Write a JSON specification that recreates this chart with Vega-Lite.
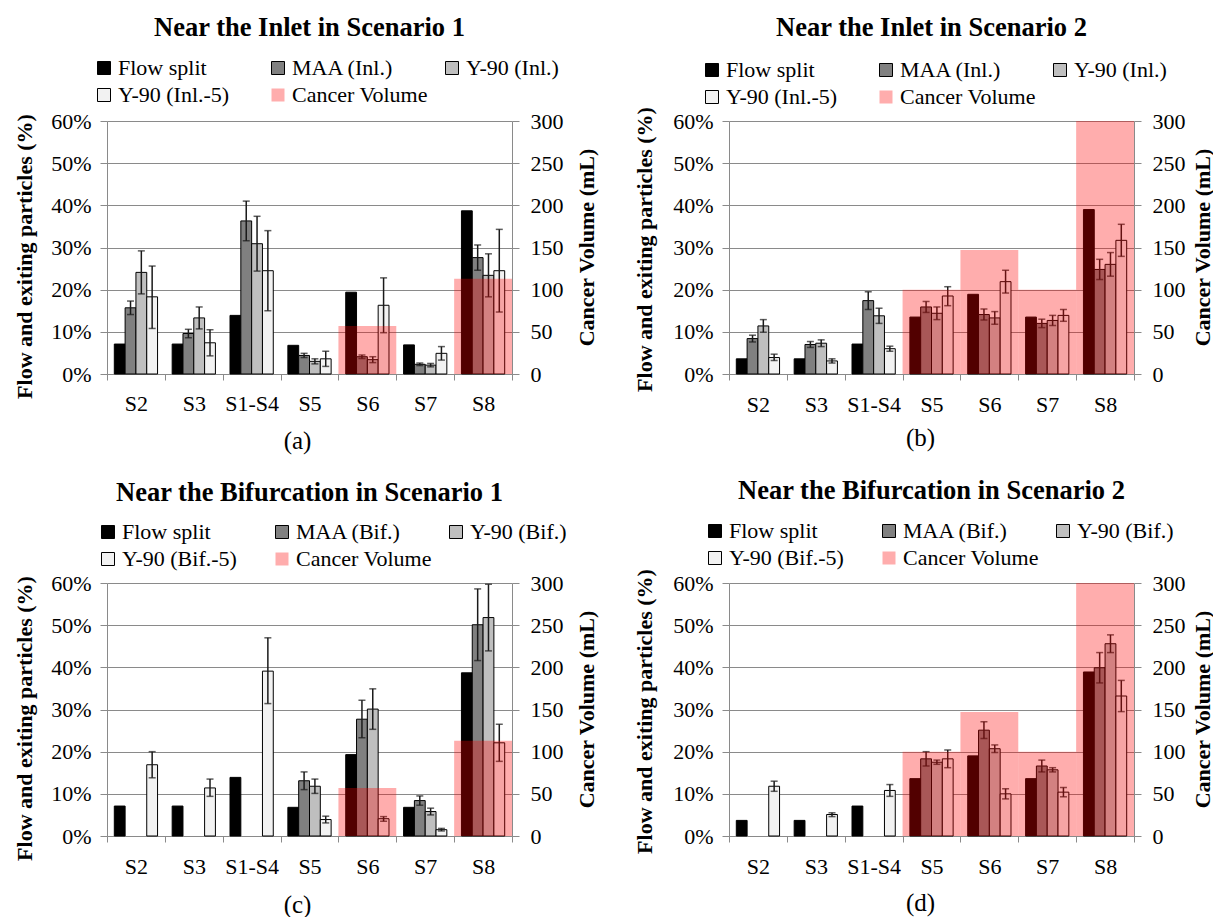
{
  "$schema": "https://vega.github.io/schema/vega-lite/v6.json",
  "background": "white",
  "padding": {"left": 12, "top": 14, "right": 0, "bottom": 0},
  "bounds": "flush",
  "columns": 2,
  "spacing": {"row": 209, "column": 217},
  "resolve": {"scale": {"color": "independent", "x": "independent", "y": "independent", "xOffset": "independent"}, "legend": {"color": "independent"}},
  "config": {"view": {"stroke": null}, "font": "Liberation Serif, Times New Roman, DejaVu Serif, serif"},
  "datasets": {
    "bars": [
      {"p":"a","cat":"S2","s":"Flow split","v":7.1},
      {"p":"a","cat":"S2","s":"MAA (Inl.)","v":15.7,"lo":14.1,"hi":17.3},
      {"p":"a","cat":"S2","s":"Y-90 (Inl.)","v":24.1,"lo":19.0,"hi":29.2},
      {"p":"a","cat":"S2","s":"Y-90 (Inl.-5)","v":18.3,"lo":10.8,"hi":25.6},
      {"p":"a","cat":"S3","s":"Flow split","v":7.1},
      {"p":"a","cat":"S3","s":"MAA (Inl.)","v":9.6,"lo":8.6,"hi":10.6},
      {"p":"a","cat":"S3","s":"Y-90 (Inl.)","v":13.3,"lo":10.7,"hi":15.9},
      {"p":"a","cat":"S3","s":"Y-90 (Inl.-5)","v":7.4,"lo":4.3,"hi":10.5},
      {"p":"a","cat":"S1-S4","s":"Flow split","v":13.9},
      {"p":"a","cat":"S1-S4","s":"MAA (Inl.)","v":36.3,"lo":31.6,"hi":41.0},
      {"p":"a","cat":"S1-S4","s":"Y-90 (Inl.)","v":30.9,"lo":24.4,"hi":37.4},
      {"p":"a","cat":"S1-S4","s":"Y-90 (Inl.-5)","v":24.5,"lo":15.0,"hi":34.0},
      {"p":"a","cat":"S5","s":"Flow split","v":6.8},
      {"p":"a","cat":"S5","s":"MAA (Inl.)","v":4.4,"lo":3.9,"hi":4.9},
      {"p":"a","cat":"S5","s":"Y-90 (Inl.)","v":3.0,"lo":2.4,"hi":3.6},
      {"p":"a","cat":"S5","s":"Y-90 (Inl.-5)","v":3.6,"lo":1.8,"hi":5.4},
      {"p":"a","cat":"S6","s":"Flow split","v":19.4},
      {"p":"a","cat":"S6","s":"MAA (Inl.)","v":4.1,"lo":3.7,"hi":4.5},
      {"p":"a","cat":"S6","s":"Y-90 (Inl.)","v":3.4,"lo":2.7,"hi":4.1},
      {"p":"a","cat":"S6","s":"Y-90 (Inl.-5)","v":16.3,"lo":9.8,"hi":22.8},
      {"p":"a","cat":"S7","s":"Flow split","v":6.9},
      {"p":"a","cat":"S7","s":"MAA (Inl.)","v":2.3,"lo":2.0,"hi":2.6},
      {"p":"a","cat":"S7","s":"Y-90 (Inl.)","v":2.1,"lo":1.7,"hi":2.5},
      {"p":"a","cat":"S7","s":"Y-90 (Inl.-5)","v":4.9,"lo":3.3,"hi":6.5},
      {"p":"a","cat":"S8","s":"Flow split","v":38.7},
      {"p":"a","cat":"S8","s":"MAA (Inl.)","v":27.6,"lo":24.6,"hi":30.6},
      {"p":"a","cat":"S8","s":"Y-90 (Inl.)","v":23.4,"lo":18.3,"hi":28.5},
      {"p":"a","cat":"S8","s":"Y-90 (Inl.-5)","v":24.5,"lo":14.7,"hi":34.3},

      {"p":"b","cat":"S2","s":"Flow split","v":3.6},
      {"p":"b","cat":"S2","s":"MAA (Inl.)","v":8.4,"lo":7.6,"hi":9.2},
      {"p":"b","cat":"S2","s":"Y-90 (Inl.)","v":11.4,"lo":9.9,"hi":12.9},
      {"p":"b","cat":"S2","s":"Y-90 (Inl.-5)","v":3.9,"lo":3.2,"hi":4.7},
      {"p":"b","cat":"S3","s":"Flow split","v":3.6},
      {"p":"b","cat":"S3","s":"MAA (Inl.)","v":7.0,"lo":6.3,"hi":7.7},
      {"p":"b","cat":"S3","s":"Y-90 (Inl.)","v":7.3,"lo":6.5,"hi":8.1},
      {"p":"b","cat":"S3","s":"Y-90 (Inl.-5)","v":3.1,"lo":2.6,"hi":3.6},
      {"p":"b","cat":"S1-S4","s":"Flow split","v":7.1},
      {"p":"b","cat":"S1-S4","s":"MAA (Inl.)","v":17.4,"lo":15.3,"hi":19.5},
      {"p":"b","cat":"S1-S4","s":"Y-90 (Inl.)","v":13.8,"lo":12.0,"hi":15.6},
      {"p":"b","cat":"S1-S4","s":"Y-90 (Inl.-5)","v":6.0,"lo":5.4,"hi":6.6},
      {"p":"b","cat":"S5","s":"Flow split","v":13.5},
      {"p":"b","cat":"S5","s":"MAA (Inl.)","v":15.9,"lo":14.6,"hi":17.2},
      {"p":"b","cat":"S5","s":"Y-90 (Inl.)","v":14.4,"lo":12.9,"hi":15.9},
      {"p":"b","cat":"S5","s":"Y-90 (Inl.-5)","v":18.5,"lo":16.2,"hi":20.7},
      {"p":"b","cat":"S6","s":"Flow split","v":18.9},
      {"p":"b","cat":"S6","s":"MAA (Inl.)","v":14.1,"lo":12.8,"hi":15.4},
      {"p":"b","cat":"S6","s":"Y-90 (Inl.)","v":13.3,"lo":11.8,"hi":14.8},
      {"p":"b","cat":"S6","s":"Y-90 (Inl.-5)","v":21.9,"lo":19.2,"hi":24.6},
      {"p":"b","cat":"S7","s":"Flow split","v":13.5},
      {"p":"b","cat":"S7","s":"MAA (Inl.)","v":12.0,"lo":11.0,"hi":13.0},
      {"p":"b","cat":"S7","s":"Y-90 (Inl.)","v":12.7,"lo":11.5,"hi":13.9},
      {"p":"b","cat":"S7","s":"Y-90 (Inl.-5)","v":13.9,"lo":12.5,"hi":15.3},
      {"p":"b","cat":"S8","s":"Flow split","v":39.0},
      {"p":"b","cat":"S8","s":"MAA (Inl.)","v":24.8,"lo":22.4,"hi":27.2},
      {"p":"b","cat":"S8","s":"Y-90 (Inl.)","v":26.0,"lo":23.2,"hi":28.8},
      {"p":"b","cat":"S8","s":"Y-90 (Inl.-5)","v":31.7,"lo":27.9,"hi":35.5},

      {"p":"c","cat":"S2","s":"Flow split","v":7.1},
      {"p":"c","cat":"S2","s":"Y-90 (Bif.-5)","v":16.9,"lo":13.8,"hi":20.0},
      {"p":"c","cat":"S3","s":"Flow split","v":7.1},
      {"p":"c","cat":"S3","s":"Y-90 (Bif.-5)","v":11.4,"lo":9.4,"hi":13.5},
      {"p":"c","cat":"S1-S4","s":"Flow split","v":13.9},
      {"p":"c","cat":"S1-S4","s":"Y-90 (Bif.-5)","v":39.1,"lo":31.4,"hi":47.0},
      {"p":"c","cat":"S5","s":"Flow split","v":6.8},
      {"p":"c","cat":"S5","s":"MAA (Bif.)","v":13.1,"lo":11.0,"hi":15.2},
      {"p":"c","cat":"S5","s":"Y-90 (Bif.)","v":11.8,"lo":10.1,"hi":13.5},
      {"p":"c","cat":"S5","s":"Y-90 (Bif.-5)","v":3.9,"lo":3.1,"hi":4.7},
      {"p":"c","cat":"S6","s":"Flow split","v":19.3},
      {"p":"c","cat":"S6","s":"MAA (Bif.)","v":27.7,"lo":23.3,"hi":32.2},
      {"p":"c","cat":"S6","s":"Y-90 (Bif.)","v":30.1,"lo":25.3,"hi":34.9},
      {"p":"c","cat":"S6","s":"Y-90 (Bif.-5)","v":4.1,"lo":3.5,"hi":4.6},
      {"p":"c","cat":"S7","s":"Flow split","v":6.8},
      {"p":"c","cat":"S7","s":"MAA (Bif.)","v":8.4,"lo":7.3,"hi":9.5},
      {"p":"c","cat":"S7","s":"Y-90 (Bif.)","v":5.8,"lo":5.0,"hi":6.6},
      {"p":"c","cat":"S7","s":"Y-90 (Bif.-5)","v":1.5,"lo":1.2,"hi":1.8},
      {"p":"c","cat":"S8","s":"Flow split","v":38.7},
      {"p":"c","cat":"S8","s":"MAA (Bif.)","v":50.1,"lo":41.6,"hi":58.6},
      {"p":"c","cat":"S8","s":"Y-90 (Bif.)","v":51.8,"lo":43.9,"hi":59.7},
      {"p":"c","cat":"S8","s":"Y-90 (Bif.-5)","v":22.1,"lo":17.7,"hi":26.5},

      {"p":"d","cat":"S2","s":"Flow split","v":3.7},
      {"p":"d","cat":"S2","s":"Y-90 (Bif.-5)","v":11.8,"lo":10.6,"hi":13.0},
      {"p":"d","cat":"S3","s":"Flow split","v":3.7},
      {"p":"d","cat":"S3","s":"Y-90 (Bif.-5)","v":5.1,"lo":4.6,"hi":5.5},
      {"p":"d","cat":"S1-S4","s":"Flow split","v":7.1},
      {"p":"d","cat":"S1-S4","s":"Y-90 (Bif.-5)","v":10.8,"lo":9.4,"hi":12.2},
      {"p":"d","cat":"S5","s":"Flow split","v":13.6},
      {"p":"d","cat":"S5","s":"MAA (Bif.)","v":18.3,"lo":16.6,"hi":20.0},
      {"p":"d","cat":"S5","s":"Y-90 (Bif.)","v":17.5,"lo":17.0,"hi":18.0},
      {"p":"d","cat":"S5","s":"Y-90 (Bif.-5)","v":18.3,"lo":16.2,"hi":20.4},
      {"p":"d","cat":"S6","s":"Flow split","v":19.0},
      {"p":"d","cat":"S6","s":"MAA (Bif.)","v":25.1,"lo":23.1,"hi":27.1},
      {"p":"d","cat":"S6","s":"Y-90 (Bif.)","v":20.7,"lo":19.8,"hi":21.6},
      {"p":"d","cat":"S6","s":"Y-90 (Bif.-5)","v":10.0,"lo":8.8,"hi":11.2},
      {"p":"d","cat":"S7","s":"Flow split","v":13.6},
      {"p":"d","cat":"S7","s":"MAA (Bif.)","v":16.6,"lo":15.2,"hi":18.0},
      {"p":"d","cat":"S7","s":"Y-90 (Bif.)","v":15.7,"lo":15.2,"hi":16.2},
      {"p":"d","cat":"S7","s":"Y-90 (Bif.-5)","v":10.4,"lo":9.3,"hi":11.5},
      {"p":"d","cat":"S8","s":"Flow split","v":38.9},
      {"p":"d","cat":"S8","s":"MAA (Bif.)","v":39.9,"lo":36.3,"hi":43.5},
      {"p":"d","cat":"S8","s":"Y-90 (Bif.)","v":45.6,"lo":43.5,"hi":47.7},
      {"p":"d","cat":"S8","s":"Y-90 (Bif.-5)","v":33.2,"lo":29.5,"hi":36.9}
    ],
    "cancer": [
      {"p":"a","cat":"S6","s":"Cancer Volume","vol":57},
      {"p":"a","cat":"S8","s":"Cancer Volume","vol":113},
      {"p":"b","cat":"S5","s":"Cancer Volume","vol":100},
      {"p":"b","cat":"S6","s":"Cancer Volume","vol":147},
      {"p":"b","cat":"S7","s":"Cancer Volume","vol":100},
      {"p":"b","cat":"S8","s":"Cancer Volume","vol":300},
      {"p":"c","cat":"S6","s":"Cancer Volume","vol":57},
      {"p":"c","cat":"S8","s":"Cancer Volume","vol":113},
      {"p":"d","cat":"S5","s":"Cancer Volume","vol":100},
      {"p":"d","cat":"S6","s":"Cancer Volume","vol":147},
      {"p":"d","cat":"S7","s":"Cancer Volume","vol":100},
      {"p":"d","cat":"S8","s":"Cancer Volume","vol":300}
    ]
  },
  "concat": [
    {
      "width": 405, "height": 253,
      "title": {"text": "Near the Inlet in Scenario 1", "frame": "group", "anchor": "middle", "baseline": "middle", "offset": 3, "fontSize": 26.5, "font": "Liberation Serif, Times New Roman, DejaVu Serif, serif", "fontWeight": "bold", "color": "#000"},
      "layer": [
        {
          "data": {"name": "bars"},
          "transform": [{"filter": "datum.p === 'a'"}],
          "encoding": {
            "x": {"field": "cat", "type": "nominal", "title": "(a)", "scale": {"domain": ["S2","S3","S1-S4","S5","S6","S7","S8"], "paddingInner": 0, "paddingOuter": 0},
              "axis": {"orient": "bottom", "tickBand": "extent", "tickSize": 6, "tickColor": "#8a8a8a", "domainColor": "#8a8a8a", "labelAngle": 0, "labelBaseline": "middle", "labelPadding": 23, "labelFont": "Liberation Serif, Times New Roman, DejaVu Serif, serif", "labelFontSize": 22, "labelColor": "#000", "titleFont": "Liberation Serif, Times New Roman, DejaVu Serif, serif", "titleFontSize": 25, "titleFontWeight": "normal", "titleColor": "#000", "titleX": 190, "titleY": 66, "titleBaseline": "middle", "grid": false}},
            "xOffset": {"field": "s", "type": "nominal", "scale": {"domain": ["Flow split","MAA (Inl.)","Y-90 (Inl.)","Y-90 (Inl.-5)"], "paddingInner": 0, "paddingOuter": 0.675}}
          },
          "layer": [
            {
              "mark": {"type": "bar", "stroke": "#000", "strokeWidth": 1},
              "encoding": {
                "y": {"field": "v", "type": "quantitative", "title": "Flow and exiting particles (%)", "scale": {"domain": [0, 60], "nice": false},
                  "axis": {"orient": "left", "values": [0,10,20,30,40,50,60], "labelExpr": "datum.value + '%'", "grid": true, "gridColor": "#8a8a8a", "gridWidth": 1, "domainColor": "#8a8a8a", "tickColor": "#8a8a8a", "tickSize": 7, "labelPadding": 9, "labelFont": "Liberation Serif, Times New Roman, DejaVu Serif, serif", "labelFontSize": 22, "labelColor": "#000", "titleFont": "Liberation Serif, Times New Roman, DejaVu Serif, serif", "titleFontSize": 22, "titleFontWeight": "bold", "titleColor": "#000", "titleX": -83, "titleY": 135, "titleBaseline": "middle", "titleAlign": "center", "titleAngle": 270}},
                "color": {"field": "s", "type": "nominal",
                  "scale": {"domain": ["Flow split","MAA (Inl.)","Y-90 (Inl.)","Y-90 (Inl.-5)","Cancer Volume"], "range": ["#000000","#808080","#bfbfbf","#f2f2f2","#ff0000"]},
                  "legend": {"orient": "none", "legendX": -14, "legendY": -64, "direction": "horizontal", "columns": 3, "title": null, "symbolType": "square", "symbolSize": 169, "symbolStrokeColor": "#000", "symbolStrokeWidth": 1, "labelFont": "Liberation Serif, Times New Roman, DejaVu Serif, serif", "labelFontSize": 22, "labelColor": "#000", "columnPadding": 13, "rowPadding": 5, "gridAlign": "all", "labelOffset": 3, "labelLimit": 300,
                    "encode": {"symbols": {"update": {"stroke": [{"test": "datum.value === 'Cancer Volume'", "value": "transparent"}, {"value": "#000"}], "opacity": {"value": 1}, "fillOpacity": [{"test": "datum.value === 'Cancer Volume'", "value": 0.32}, {"value": 1}]}}}}}
              }
            },
            {
              "transform": [{"filter": "isValid(datum.lo)"}],
              "mark": {"type": "rule", "color": "#1a1a1a", "strokeWidth": 1.5},
              "encoding": {"y": {"field": "lo", "type": "quantitative", "title": "Flow and exiting particles (%)"}, "y2": {"field": "hi"}}
            },
            {
              "transform": [{"filter": "isValid(datum.hi)"}],
              "mark": {"type": "tick", "color": "#1a1a1a", "thickness": 1.5, "size": 7},
              "encoding": {"y": {"field": "hi", "type": "quantitative", "title": "Flow and exiting particles (%)"}}
            },
            {
              "transform": [{"filter": "isValid(datum.lo)"}],
              "mark": {"type": "tick", "color": "#1a1a1a", "thickness": 1.5, "size": 7},
              "encoding": {"y": {"field": "lo", "type": "quantitative", "title": "Flow and exiting particles (%)"}}
            }
          ]
        },
        {
          "data": {"name": "cancer"},
          "transform": [{"filter": "datum.p === 'a'"}],
          "mark": {"type": "bar", "opacity": 0.32},
          "encoding": {
            "x": {"field": "cat", "type": "nominal", "title": "(a)"},
            "y": {"field": "vol", "type": "quantitative", "title": "Cancer Volume (mL)", "scale": {"domain": [0, 300], "nice": false},
              "axis": {"orient": "right", "values": [0,50,100,150,200,250,300], "grid": false, "domainColor": "#8a8a8a", "tickColor": "#8a8a8a", "tickSize": 7, "labelPadding": 11, "labelFont": "Liberation Serif, Times New Roman, DejaVu Serif, serif", "labelFontSize": 22, "labelColor": "#000", "titleFont": "Liberation Serif, Times New Roman, DejaVu Serif, serif", "titleFontSize": 22, "titleFontWeight": "bold", "titleColor": "#000", "titleX": 74, "titleY": 126, "titleBaseline": "middle", "titleAlign": "center", "titleAngle": 270}},
            "color": {"field": "s", "type": "nominal"}
          }
        }
      ],
      "resolve": {"scale": {"y": "independent"}}
    },
    {
      "width": 405, "height": 253,
      "title": {"text": "Near the Inlet in Scenario 2", "frame": "group", "anchor": "middle", "baseline": "middle", "offset": 5, "fontSize": 26.5, "font": "Liberation Serif, Times New Roman, DejaVu Serif, serif", "fontWeight": "bold", "color": "#000"},
      "layer": [
        {
          "data": {"name": "bars"},
          "transform": [{"filter": "datum.p === 'b'"}],
          "encoding": {
            "x": {"field": "cat", "type": "nominal", "title": "(b)", "scale": {"domain": ["S2","S3","S1-S4","S5","S6","S7","S8"], "paddingInner": 0, "paddingOuter": 0},
              "axis": {"orient": "bottom", "tickBand": "extent", "tickSize": 6, "tickColor": "#8a8a8a", "domainColor": "#8a8a8a", "labelAngle": 0, "labelBaseline": "middle", "labelPadding": 24, "labelFont": "Liberation Serif, Times New Roman, DejaVu Serif, serif", "labelFontSize": 22, "labelColor": "#000", "titleFont": "Liberation Serif, Times New Roman, DejaVu Serif, serif", "titleFontSize": 25, "titleFontWeight": "normal", "titleColor": "#000", "titleX": 191, "titleY": 63, "titleBaseline": "middle", "grid": false}},
            "xOffset": {"field": "s", "type": "nominal", "scale": {"domain": ["Flow split","MAA (Inl.)","Y-90 (Inl.)","Y-90 (Inl.-5)"], "paddingInner": 0, "paddingOuter": 0.675}}
          },
          "layer": [
            {
              "mark": {"type": "bar", "stroke": "#000", "strokeWidth": 1},
              "encoding": {
                "y": {"field": "v", "type": "quantitative", "title": "Flow and exiting particles (%)", "scale": {"domain": [0, 60], "nice": false},
                  "axis": {"orient": "left", "values": [0,10,20,30,40,50,60], "labelExpr": "datum.value + '%'", "grid": true, "gridColor": "#8a8a8a", "gridWidth": 1, "domainColor": "#8a8a8a", "tickColor": "#8a8a8a", "tickSize": 7, "labelPadding": 9, "labelFont": "Liberation Serif, Times New Roman, DejaVu Serif, serif", "labelFontSize": 22, "labelColor": "#000", "titleFont": "Liberation Serif, Times New Roman, DejaVu Serif, serif", "titleFontSize": 22, "titleFontWeight": "bold", "titleColor": "#000", "titleX": -85, "titleY": 128, "titleBaseline": "middle", "titleAlign": "center", "titleAngle": 270}},
                "color": {"field": "s", "type": "nominal",
                  "scale": {"domain": ["Flow split","MAA (Inl.)","Y-90 (Inl.)","Y-90 (Inl.-5)","Cancer Volume"], "range": ["#000000","#808080","#bfbfbf","#f2f2f2","#ff0000"]},
                  "legend": {"orient": "none", "legendX": -28, "legendY": -62, "direction": "horizontal", "columns": 3, "title": null, "symbolType": "square", "symbolSize": 169, "symbolStrokeColor": "#000", "symbolStrokeWidth": 1, "labelFont": "Liberation Serif, Times New Roman, DejaVu Serif, serif", "labelFontSize": 22, "labelColor": "#000", "columnPadding": 13, "rowPadding": 5, "gridAlign": "all", "labelOffset": 3, "labelLimit": 300,
                    "encode": {"symbols": {"update": {"stroke": [{"test": "datum.value === 'Cancer Volume'", "value": "transparent"}, {"value": "#000"}], "opacity": {"value": 1}, "fillOpacity": [{"test": "datum.value === 'Cancer Volume'", "value": 0.32}, {"value": 1}]}}}}}
              }
            },
            {
              "transform": [{"filter": "isValid(datum.lo)"}],
              "mark": {"type": "rule", "color": "#1a1a1a", "strokeWidth": 1.5},
              "encoding": {"y": {"field": "lo", "type": "quantitative", "title": "Flow and exiting particles (%)"}, "y2": {"field": "hi"}}
            },
            {
              "transform": [{"filter": "isValid(datum.hi)"}],
              "mark": {"type": "tick", "color": "#1a1a1a", "thickness": 1.5, "size": 7},
              "encoding": {"y": {"field": "hi", "type": "quantitative", "title": "Flow and exiting particles (%)"}}
            },
            {
              "transform": [{"filter": "isValid(datum.lo)"}],
              "mark": {"type": "tick", "color": "#1a1a1a", "thickness": 1.5, "size": 7},
              "encoding": {"y": {"field": "lo", "type": "quantitative", "title": "Flow and exiting particles (%)"}}
            }
          ]
        },
        {
          "data": {"name": "cancer"},
          "transform": [{"filter": "datum.p === 'b'"}],
          "mark": {"type": "bar", "opacity": 0.32},
          "encoding": {
            "x": {"field": "cat", "type": "nominal", "title": "(b)"},
            "y": {"field": "vol", "type": "quantitative", "title": "Cancer Volume (mL)", "scale": {"domain": [0, 300], "nice": false},
              "axis": {"orient": "right", "values": [0,50,100,150,200,250,300], "grid": false, "domainColor": "#8a8a8a", "tickColor": "#8a8a8a", "tickSize": 7, "labelPadding": 11, "labelFont": "Liberation Serif, Times New Roman, DejaVu Serif, serif", "labelFontSize": 22, "labelColor": "#000", "titleFont": "Liberation Serif, Times New Roman, DejaVu Serif, serif", "titleFontSize": 22, "titleFontWeight": "bold", "titleColor": "#000", "titleX": 68, "titleY": 126, "titleBaseline": "middle", "titleAlign": "center", "titleAngle": 270}},
            "color": {"field": "s", "type": "nominal"}
          }
        }
      ],
      "resolve": {"scale": {"y": "independent"}}
    },
    {
      "width": 405, "height": 253,
      "title": {"text": "Near the Bifurcation in Scenario 1", "frame": "group", "anchor": "middle", "baseline": "middle", "offset": 2, "fontSize": 26.5, "font": "Liberation Serif, Times New Roman, DejaVu Serif, serif", "fontWeight": "bold", "color": "#000"},
      "layer": [
        {
          "data": {"name": "bars"},
          "transform": [{"filter": "datum.p === 'c'"}],
          "encoding": {
            "x": {"field": "cat", "type": "nominal", "title": "(c)", "scale": {"domain": ["S2","S3","S1-S4","S5","S6","S7","S8"], "paddingInner": 0, "paddingOuter": 0},
              "axis": {"orient": "bottom", "tickBand": "extent", "tickSize": 6, "tickColor": "#8a8a8a", "domainColor": "#8a8a8a", "labelAngle": 0, "labelBaseline": "middle", "labelPadding": 24, "labelFont": "Liberation Serif, Times New Roman, DejaVu Serif, serif", "labelFontSize": 22, "labelColor": "#000", "titleFont": "Liberation Serif, Times New Roman, DejaVu Serif, serif", "titleFontSize": 25, "titleFontWeight": "normal", "titleColor": "#000", "titleX": 190, "titleY": 68, "titleBaseline": "middle", "grid": false}},
            "xOffset": {"field": "s", "type": "nominal", "scale": {"domain": ["Flow split","MAA (Bif.)","Y-90 (Bif.)","Y-90 (Bif.-5)"], "paddingInner": 0, "paddingOuter": 0.675}}
          },
          "layer": [
            {
              "mark": {"type": "bar", "stroke": "#000", "strokeWidth": 1},
              "encoding": {
                "y": {"field": "v", "type": "quantitative", "title": "Flow and exiting particles (%)", "scale": {"domain": [0, 60], "nice": false},
                  "axis": {"orient": "left", "values": [0,10,20,30,40,50,60], "labelExpr": "datum.value + '%'", "grid": true, "gridColor": "#8a8a8a", "gridWidth": 1, "domainColor": "#8a8a8a", "tickColor": "#8a8a8a", "tickSize": 7, "labelPadding": 9, "labelFont": "Liberation Serif, Times New Roman, DejaVu Serif, serif", "labelFontSize": 22, "labelColor": "#000", "titleFont": "Liberation Serif, Times New Roman, DejaVu Serif, serif", "titleFontSize": 22, "titleFontWeight": "bold", "titleColor": "#000", "titleX": -83, "titleY": 135, "titleBaseline": "middle", "titleAlign": "center", "titleAngle": 270}},
                "color": {"field": "s", "type": "nominal",
                  "scale": {"domain": ["Flow split","MAA (Bif.)","Y-90 (Bif.)","Y-90 (Bif.-5)","Cancer Volume"], "range": ["#000000","#808080","#bfbfbf","#f2f2f2","#ff0000"]},
                  "legend": {"orient": "none", "legendX": -10, "legendY": -62, "direction": "horizontal", "columns": 3, "title": null, "symbolType": "square", "symbolSize": 169, "symbolStrokeColor": "#000", "symbolStrokeWidth": 1, "labelFont": "Liberation Serif, Times New Roman, DejaVu Serif, serif", "labelFontSize": 22, "labelColor": "#000", "columnPadding": 13, "rowPadding": 5, "gridAlign": "all", "labelOffset": 3, "labelLimit": 300,
                    "encode": {"symbols": {"update": {"stroke": [{"test": "datum.value === 'Cancer Volume'", "value": "transparent"}, {"value": "#000"}], "opacity": {"value": 1}, "fillOpacity": [{"test": "datum.value === 'Cancer Volume'", "value": 0.32}, {"value": 1}]}}}}}
              }
            },
            {
              "transform": [{"filter": "isValid(datum.lo)"}],
              "mark": {"type": "rule", "color": "#1a1a1a", "strokeWidth": 1.5},
              "encoding": {"y": {"field": "lo", "type": "quantitative", "title": "Flow and exiting particles (%)"}, "y2": {"field": "hi"}}
            },
            {
              "transform": [{"filter": "isValid(datum.hi)"}],
              "mark": {"type": "tick", "color": "#1a1a1a", "thickness": 1.5, "size": 7},
              "encoding": {"y": {"field": "hi", "type": "quantitative", "title": "Flow and exiting particles (%)"}}
            },
            {
              "transform": [{"filter": "isValid(datum.lo)"}],
              "mark": {"type": "tick", "color": "#1a1a1a", "thickness": 1.5, "size": 7},
              "encoding": {"y": {"field": "lo", "type": "quantitative", "title": "Flow and exiting particles (%)"}}
            }
          ]
        },
        {
          "data": {"name": "cancer"},
          "transform": [{"filter": "datum.p === 'c'"}],
          "mark": {"type": "bar", "opacity": 0.32},
          "encoding": {
            "x": {"field": "cat", "type": "nominal", "title": "(c)"},
            "y": {"field": "vol", "type": "quantitative", "title": "Cancer Volume (mL)", "scale": {"domain": [0, 300], "nice": false},
              "axis": {"orient": "right", "values": [0,50,100,150,200,250,300], "grid": false, "domainColor": "#8a8a8a", "tickColor": "#8a8a8a", "tickSize": 7, "labelPadding": 11, "labelFont": "Liberation Serif, Times New Roman, DejaVu Serif, serif", "labelFontSize": 22, "labelColor": "#000", "titleFont": "Liberation Serif, Times New Roman, DejaVu Serif, serif", "titleFontSize": 22, "titleFontWeight": "bold", "titleColor": "#000", "titleX": 74, "titleY": 126, "titleBaseline": "middle", "titleAlign": "center", "titleAngle": 270}},
            "color": {"field": "s", "type": "nominal"}
          }
        }
      ],
      "resolve": {"scale": {"y": "independent"}}
    },
    {
      "width": 405, "height": 253,
      "title": {"text": "Near the Bifurcation in Scenario 2", "frame": "group", "anchor": "middle", "baseline": "middle", "offset": 3, "fontSize": 26.5, "font": "Liberation Serif, Times New Roman, DejaVu Serif, serif", "fontWeight": "bold", "color": "#000"},
      "layer": [
        {
          "data": {"name": "bars"},
          "transform": [{"filter": "datum.p === 'd'"}],
          "encoding": {
            "x": {"field": "cat", "type": "nominal", "title": "(d)", "scale": {"domain": ["S2","S3","S1-S4","S5","S6","S7","S8"], "paddingInner": 0, "paddingOuter": 0},
              "axis": {"orient": "bottom", "tickBand": "extent", "tickSize": 6, "tickColor": "#8a8a8a", "domainColor": "#8a8a8a", "labelAngle": 0, "labelBaseline": "middle", "labelPadding": 24, "labelFont": "Liberation Serif, Times New Roman, DejaVu Serif, serif", "labelFontSize": 22, "labelColor": "#000", "titleFont": "Liberation Serif, Times New Roman, DejaVu Serif, serif", "titleFontSize": 25, "titleFontWeight": "normal", "titleColor": "#000", "titleX": 191, "titleY": 66, "titleBaseline": "middle", "grid": false}},
            "xOffset": {"field": "s", "type": "nominal", "scale": {"domain": ["Flow split","MAA (Bif.)","Y-90 (Bif.)","Y-90 (Bif.-5)"], "paddingInner": 0, "paddingOuter": 0.675}}
          },
          "layer": [
            {
              "mark": {"type": "bar", "stroke": "#000", "strokeWidth": 1},
              "encoding": {
                "y": {"field": "v", "type": "quantitative", "title": "Flow and exiting particles (%)", "scale": {"domain": [0, 60], "nice": false},
                  "axis": {"orient": "left", "values": [0,10,20,30,40,50,60], "labelExpr": "datum.value + '%'", "grid": true, "gridColor": "#8a8a8a", "gridWidth": 1, "domainColor": "#8a8a8a", "tickColor": "#8a8a8a", "tickSize": 7, "labelPadding": 9, "labelFont": "Liberation Serif, Times New Roman, DejaVu Serif, serif", "labelFontSize": 22, "labelColor": "#000", "titleFont": "Liberation Serif, Times New Roman, DejaVu Serif, serif", "titleFontSize": 22, "titleFontWeight": "bold", "titleColor": "#000", "titleX": -85, "titleY": 128, "titleBaseline": "middle", "titleAlign": "center", "titleAngle": 270}},
                "color": {"field": "s", "type": "nominal",
                  "scale": {"domain": ["Flow split","MAA (Bif.)","Y-90 (Bif.)","Y-90 (Bif.-5)","Cancer Volume"], "range": ["#000000","#808080","#bfbfbf","#f2f2f2","#ff0000"]},
                  "legend": {"orient": "none", "legendX": -25, "legendY": -63, "direction": "horizontal", "columns": 3, "title": null, "symbolType": "square", "symbolSize": 169, "symbolStrokeColor": "#000", "symbolStrokeWidth": 1, "labelFont": "Liberation Serif, Times New Roman, DejaVu Serif, serif", "labelFontSize": 22, "labelColor": "#000", "columnPadding": 13, "rowPadding": 5, "gridAlign": "all", "labelOffset": 3, "labelLimit": 300,
                    "encode": {"symbols": {"update": {"stroke": [{"test": "datum.value === 'Cancer Volume'", "value": "transparent"}, {"value": "#000"}], "opacity": {"value": 1}, "fillOpacity": [{"test": "datum.value === 'Cancer Volume'", "value": 0.32}, {"value": 1}]}}}}}
              }
            },
            {
              "transform": [{"filter": "isValid(datum.lo)"}],
              "mark": {"type": "rule", "color": "#1a1a1a", "strokeWidth": 1.5},
              "encoding": {"y": {"field": "lo", "type": "quantitative", "title": "Flow and exiting particles (%)"}, "y2": {"field": "hi"}}
            },
            {
              "transform": [{"filter": "isValid(datum.hi)"}],
              "mark": {"type": "tick", "color": "#1a1a1a", "thickness": 1.5, "size": 7},
              "encoding": {"y": {"field": "hi", "type": "quantitative", "title": "Flow and exiting particles (%)"}}
            },
            {
              "transform": [{"filter": "isValid(datum.lo)"}],
              "mark": {"type": "tick", "color": "#1a1a1a", "thickness": 1.5, "size": 7},
              "encoding": {"y": {"field": "lo", "type": "quantitative", "title": "Flow and exiting particles (%)"}}
            }
          ]
        },
        {
          "data": {"name": "cancer"},
          "transform": [{"filter": "datum.p === 'd'"}],
          "mark": {"type": "bar", "opacity": 0.32},
          "encoding": {
            "x": {"field": "cat", "type": "nominal", "title": "(d)"},
            "y": {"field": "vol", "type": "quantitative", "title": "Cancer Volume (mL)", "scale": {"domain": [0, 300], "nice": false},
              "axis": {"orient": "right", "values": [0,50,100,150,200,250,300], "grid": false, "domainColor": "#8a8a8a", "tickColor": "#8a8a8a", "tickSize": 7, "labelPadding": 11, "labelFont": "Liberation Serif, Times New Roman, DejaVu Serif, serif", "labelFontSize": 22, "labelColor": "#000", "titleFont": "Liberation Serif, Times New Roman, DejaVu Serif, serif", "titleFontSize": 22, "titleFontWeight": "bold", "titleColor": "#000", "titleX": 68, "titleY": 126, "titleBaseline": "middle", "titleAlign": "center", "titleAngle": 270}},
            "color": {"field": "s", "type": "nominal"}
          }
        }
      ],
      "resolve": {"scale": {"y": "independent"}}
    }
  ]
}
